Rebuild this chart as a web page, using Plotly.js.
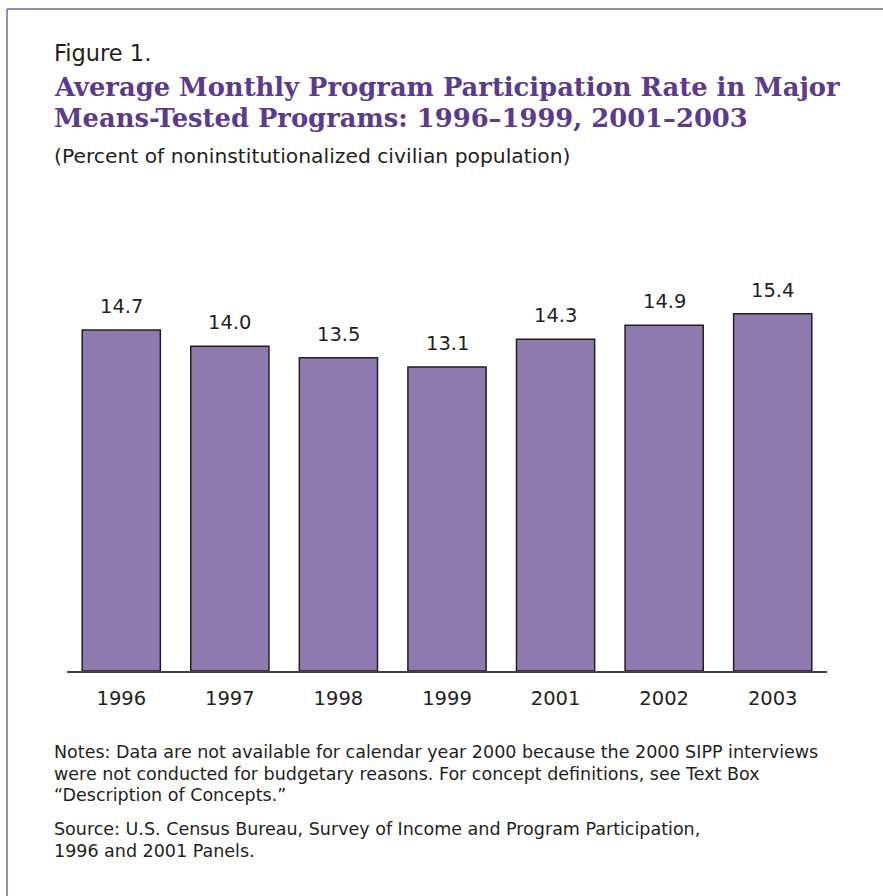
<!DOCTYPE html>
<html>
<head>
<meta charset="utf-8">
<script src="https://cdn.plot.ly/plotly-3.0.1.min.js"></script>
<style>
html,body{margin:0;padding:0;background:#fff;}
#chart{width:883px;height:896px;}
</style>
</head>
<body>
<div id="chart"></div>
<script>
// Data
const years = ['1996', '1997', '1998', '1999', '2001', '2002', '2003'];
const rates = [14.7, 14.0, 13.5, 13.1, 14.3, 14.9, 15.4];
const rateLabels = ['14.7', '14.0', '13.5', '13.1', '14.3', '14.9', '15.4'];

const figureLabel = 'Figure 1.';
const titleLines = ['Average Monthly Program Participation Rate in Major',
                    'Means-Tested Programs: 1996\u20131999, 2001\u20132003'];
const subtitle = '(Percent of noninstitutionalized civilian population)';
const noteLines = ['Notes: Data are not available for calendar year 2000 because the 2000 SIPP interviews',
                   'were not conducted for budgetary reasons. For concept definitions, see Text Box',
                   '\u201cDescription of Concepts.\u201d'];
const sourceLines = ['Source: U.S. Census Bureau, Survey of Income and Program Participation,',
                     '1996 and 2001 Panels.'];

// Geometry (pixels)
const W = 883, H = 896;
const L = 67, R = 827, T = 250, B = 671;
const pxPerUnit = 23.2;
const yMax = (B - T) / pxPerUnit;
const px = x => (x - L) / (R - L);
const py = y => (B - y) / (B - T);

const txtFont = 'DejaVu Sans, sans-serif';
const dark = '#231f20';
const purple = '#5c3a8e';

const annotations = [];
function addText(text, x, y, size, color, family, weight) {
  annotations.push({
    text: text, xref: 'paper', yref: 'paper', x: px(x), y: py(y),
    xanchor: 'left', yanchor: 'middle', showarrow: false,
    font: {family: family || txtFont, size: size, color: color || dark, weight: weight || 'normal'}
  });
}
addText(figureLabel, 52, 53, 22.5);
addText(titleLines[0], 52, 87, 25.8, purple, 'DejaVu Serif, serif', 'bold');
addText(titleLines[1], 52, 118, 25.8, purple, 'DejaVu Serif, serif', 'bold');
addText(subtitle, 52, 156, 20.3);
const noteY = [752, 773.5, 795];
noteLines.forEach((t, i) => addText(t, 52, noteY[i], 17.5));
const srcY = [829, 851];
sourceLines.forEach((t, i) => addText(t, 52, srcY[i], 17.5));

// value labels above bars (x given as category index)
years.forEach((yr, i) => {
  annotations.push({
    text: rateLabels[i], x: i, y: rates[i], xref: 'x', yref: 'y',
    xanchor: 'center', yanchor: 'bottom', yshift: 10, showarrow: false,
    font: {family: txtFont, size: 19.5, color: dark}
  });
});

const shapes = [
  {type: 'line', xref: 'paper', yref: 'paper', x0: px(7), x1: px(W + 5), y0: py(9), y1: py(9),
   line: {color: '#7a62a6', width: 1.5}},
  {type: 'line', xref: 'paper', yref: 'paper', x0: px(7), x1: px(7), y0: py(9), y1: py(H + 5),
   line: {color: '#7a62a6', width: 1.5}}
];

const trace = {
  type: 'bar', x: years, y: rates,
  marker: {color: '#8e7aaf', line: {color: dark, width: 1.5}},
  hoverinfo: 'skip'
};

const layout = {
  width: W, height: H,
  margin: {l: L, r: W - R, t: T, b: H - B, pad: 0},
  paper_bgcolor: '#fff', plot_bgcolor: '#fff',
  showlegend: false,
  bargap: 0.28,
  xaxis: {
    type: 'category', range: [-0.5, years.length - 0.5], autorange: false,
    showline: true, linecolor: '#444', linewidth: 1.5,
    ticks: '', showgrid: false, zeroline: false, fixedrange: true,
    tickfont: {family: txtFont, size: 19.5, color: dark}, ticklabelstandoff: 9
  },
  yaxis: {
    range: [0, yMax], autorange: false, visible: false, showgrid: false, zeroline: false, fixedrange: true
  },
  annotations: annotations,
  shapes: shapes
};

Plotly.newPlot('chart', [trace], layout, {displayModeBar: false, staticPlot: true});
</script>
</body>
</html>
